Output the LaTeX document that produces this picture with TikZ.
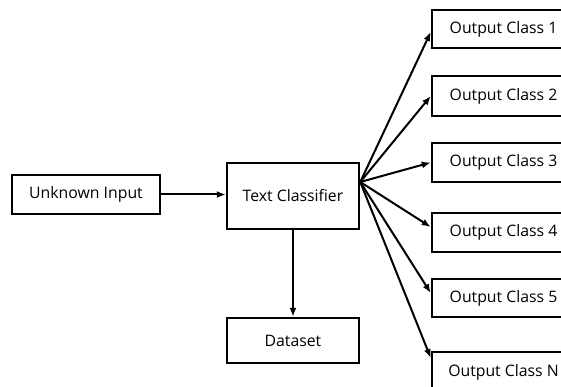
\documentclass[tikz,border=0pt]{standalone}
\usepackage{fontspec}
\setmainfont{Open Sans}
\usetikzlibrary{arrows.meta}
\begin{document}
\begin{tikzpicture}[x=1pt,y=-1pt,
  box/.style={draw=black,line width=2.5pt,fill=white,inner sep=0pt,
    font=\fontsize{15.8}{19}\selectfont},
  link/.style={line width=2pt,-{Latex[length=9pt,width=7pt]}}]
\useasboundingbox (0,0) rectangle (561,387);
\clip (0,0) rectangle (561,387);
\fill[white] (0,0) rectangle (561,387);

% input, classifier and data store
\node[box,minimum width=148pt,minimum height=39pt] (ui) at (86,194.5) {Unknown Input};
\node[box,minimum width=132pt,minimum height=66pt] (tc) at (293,196) {Text Classifier};
\node[box,minimum width=132pt,minimum height=45pt] (ds) at (293,340.5) {Dataset};

% output classes (running off the right edge)
\node[box,minimum width=143pt,minimum height=38pt] (o1) at (503.5,29) {Output Class 1};
\node[box,minimum width=143pt,minimum height=40pt] (o2) at (503.5,96) {Output Class 2};
\node[box,minimum width=143pt,minimum height=39pt] (o3) at (503.5,162.5) {Output Class 3};
\node[box,minimum width=143pt,minimum height=39pt] (o4) at (503.5,232.5) {Output Class 4};
\node[box,minimum width=143pt,minimum height=38pt] (o5) at (503.5,298) {Output Class 5};
\node[box,minimum width=143pt,minimum height=40pt] (oN) at (503.5,372) {Output Class N};

\coordinate (fan) at ([yshift=14pt]tc.east);

\draw[link] (ui.east) -- (tc.west |- ui.east);
\draw[link] (tc.south) -- (ds.north);
\draw[link] (fan) -- ([yshift=-3pt]o1.west);
\draw[link] (fan) -- (o2.west);
\draw[link] (fan) -- (o3.west);
\draw[link] (fan) -- ([yshift=5.5pt]o4.west);
\draw[link] (fan) -- ([yshift=5pt]o5.west);
\draw[link] (fan) -- ([yshift=14pt]oN.west);
\end{tikzpicture}
\end{document}
